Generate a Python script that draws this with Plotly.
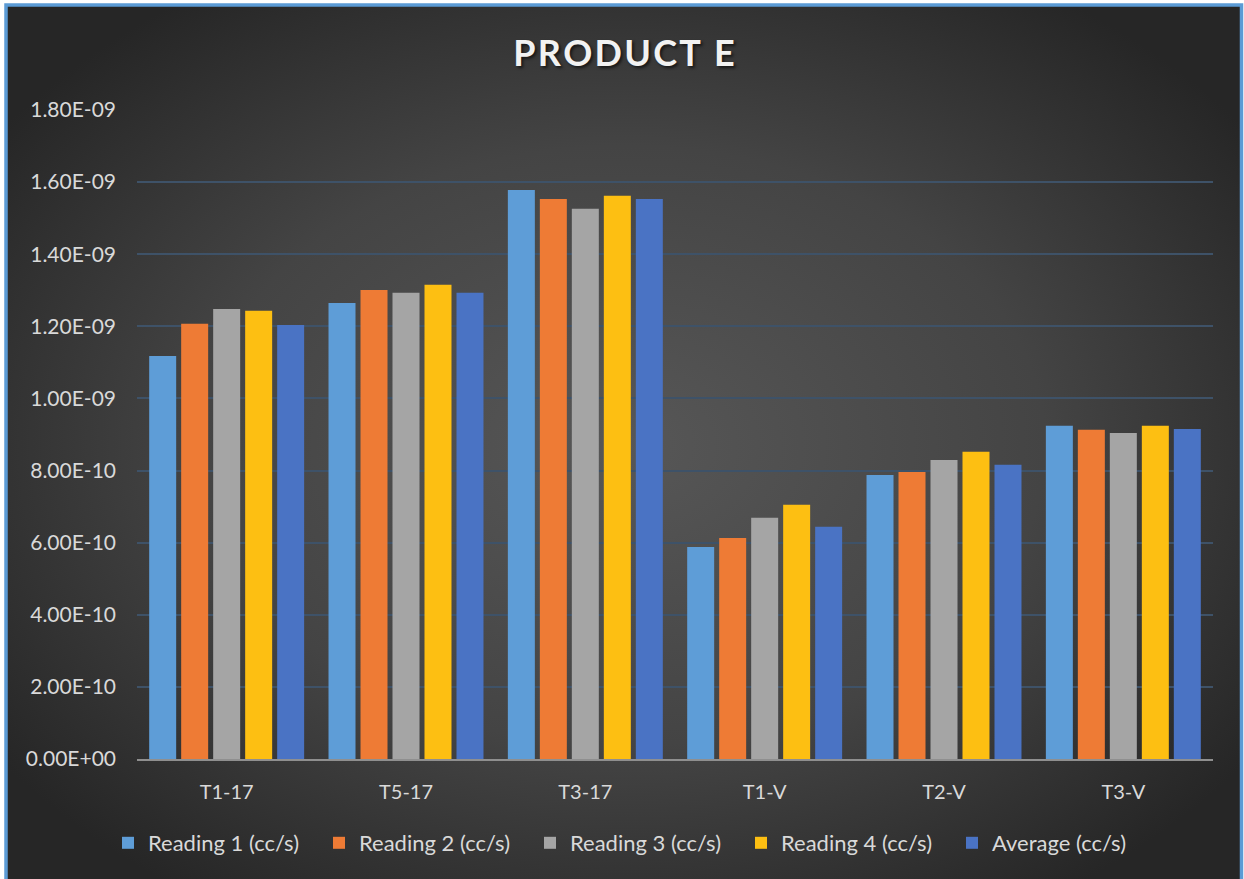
import base64
import plotly.graph_objects as go

# Leak-rate readings per test sample
categories = ["T1-17", "T5-17", "T3-17", "T1-V", "T2-V", "T3-V"]
reading_1 = [1.118e-9, 1.265e-9, 1.578e-9, 5.88e-10, 7.88e-10, 9.24e-10]
reading_2 = [1.207e-9, 1.301e-9, 1.553e-9, 6.13e-10, 7.96e-10, 9.13e-10]
reading_3 = [1.248e-9, 1.293e-9, 1.526e-9, 6.69e-10, 8.29e-10, 9.04e-10]
reading_4 = [1.243e-9, 1.315e-9, 1.562e-9, 7.05e-10, 8.52e-10, 9.24e-10]
average = [1.204e-9, 1.293e-9, 1.553e-9, 6.44e-10, 8.16e-10, 9.15e-10]

series_names = ["Reading 1 (cc/s)", "Reading 2 (cc/s)", "Reading 3 (cc/s)",
                "Reading 4 (cc/s)", "Average (cc/s)"]
series_values = [reading_1, reading_2, reading_3, reading_4, average]
series_colors = ["#5E9DD7", "#EE7B35", "#A5A5A5", "#FDBF12", "#4A73C4"]

y_ticks = [i * 2e-10 for i in range(10)]
y_tick_text = ["%.2E" % v for v in y_ticks]

chart_title = "PRODUCT E"

W, H = 1244, 879
ML, MR, MT, MB = 137, 31, 110, 120
PW, PH = W - ML - MR, H - MT - MB

def px_x(x):
    return (x - ML) / PW

def px_y(y):
    return (H - MB - y) / PH

# Dark radial-gradient chart area
svg = """<svg xmlns='http://www.w3.org/2000/svg' width='1236' height='880' viewBox='0 0 1236 880' preserveAspectRatio='none'>
<defs><radialGradient id='g' cx='50%' cy='50%' r='62%'>
<stop offset='0' stop-color='#575757'/>
<stop offset='0.55' stop-color='#444444'/>
<stop offset='1' stop-color='#262626'/>
</radialGradient></defs>
<rect width='1236' height='880' fill='url(#g)'/></svg>"""
bg_uri = "data:image/svg+xml;base64," + base64.b64encode(svg.encode()).decode()

fig = go.Figure()
for name, vals, col in zip(series_names, series_values, series_colors):
    fig.add_trace(go.Bar(
        x=categories, y=vals, name=name,
        marker=dict(color=col, line=dict(width=0)),
    ))

font_family = "Lato, 'Open Sans', sans-serif"

# spaced-out title letters
spaced_title = "\u200a".join(chart_title)

fig.update_layout(
    width=W, height=H,
    margin=dict(l=ML, r=MR, t=MT, b=MB, autoexpand=False),
    paper_bgcolor="white",
    plot_bgcolor="rgba(0,0,0,0)",
    barmode="group",
    bargap=0.108,
    bargroupgap=0.156,
    title=dict(
        text=spaced_title,
        x=624 / W, xanchor="center", xref="container",
        y=1 - 53 / H, yanchor="middle", yref="container",
        font=dict(family=font_family, size=36, color="#F2F2F2", weight="bold",
                  shadow="2px 2px 3px rgba(0,0,0,0.6)"),
    ),
    font=dict(family=font_family, color="#D9D9D9"),
    showlegend=True,
    legend=dict(
        orientation="h",
        x=px_x(108), xanchor="left",
        y=px_y(843), yanchor="middle",
        font=dict(size=22, color="#D9D9D9"),
        bgcolor="rgba(0,0,0,0)",
        itemwidth=30,
        entrywidth=166, entrywidthmode="pixels",
        traceorder="normal",
    ),
    xaxis=dict(
        showgrid=False,
        showline=True, linecolor="#8F8F8F", linewidth=2,
        ticks="", tickfont=dict(size=20, color="#D9D9D9"),
        ticklabelstandoff=14,
    ),
    yaxis=dict(
        range=[0, 1.8e-9],
        tickvals=y_ticks, ticktext=y_tick_text,
        tickfont=dict(size=21, color="#D9D9D9"),
        showgrid=True, gridcolor="#3E5268", gridwidth=1.5,
        zeroline=False, showline=False, ticks="",
        ticklabelstandoff=20,
    ),
    images=[dict(
        source=bg_uri, xref="paper", yref="paper",
        x=px_x(7), y=px_y(6), sizex=(1241 - 7) / PW, sizey=(885 - 6) / PH,
        xanchor="left", yanchor="top", sizing="stretch", layer="below",
    )],
    shapes=[dict(
        type="rect", xref="paper", yref="paper",
        x0=px_x(6), x1=px_x(1241.5), y0=px_y(890), y1=px_y(5),
        line=dict(color="#5B9BD5", width=3.5), fillcolor="rgba(0,0,0,0)",
        layer="above",
    )],
)

fig.write_html("out.html")
